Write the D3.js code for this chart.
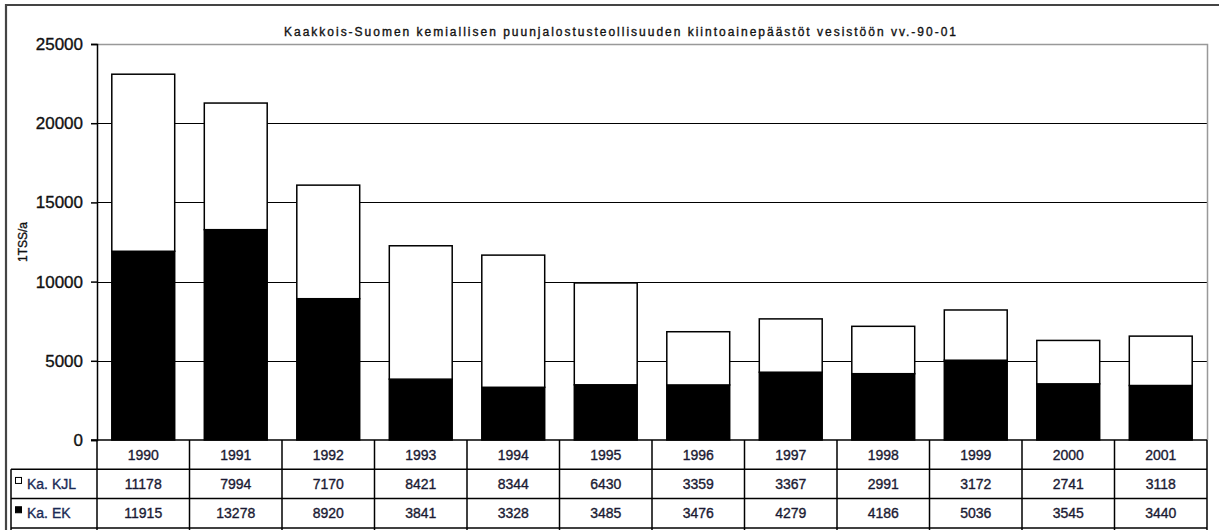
<!DOCTYPE html>
<html>
<head>
<meta charset="utf-8">
<script src="https://cdnjs.cloudflare.com/ajax/libs/d3/7.8.5/d3.min.js"></script>
<style>
  html, body { margin: 0; padding: 0; background: #fff; }
  svg { display: block; font-family: "Liberation Sans", Arial, sans-serif; }
  text { stroke: currentColor; stroke-width: 0.35; paint-order: stroke; }
</style>
</head>
<body>
<svg id="chart" width="1219" height="530"></svg>
<script>
// Kiintoainepäästöt vesistöön, t/a
const years = ["1990","1991","1992","1993","1994","1995","1996","1997","1998","1999","2000","2001"];
const kjl = [11178, 7994, 7170, 8421, 8344, 6430, 3359, 3367, 2991, 3172, 2741, 3118];
const ek  = [11915, 13278, 8920, 3841, 3328, 3485, 3476, 4279, 4186, 5036, 3545, 3440];
const seriesNames = ["Ka. KJL", "Ka. EK"];
const yTicks = [0, 5000, 10000, 15000, 20000, 25000];
const title = "Kaakkois-Suomen kemiallisen puunjalostusteollisuuden kiintoainepäästöt vesistöön vv.-90-01";
const yLabel = "1TSS/a";

(function () {
const svg = d3.select("#chart");

const plotLeft = 97, plotRight = 1207, plotTop = 44, zeroY = 440;
const rowH = 29.3;

const x = d3.scaleBand().domain(years).range([plotLeft, plotRight]).padding(0);
const y = d3.scaleLinear().domain([0, 25000]).range([zeroY, plotTop]);

// outer frame
svg.append("path")
  .attr("d", `M6,531 V5 H1220`)
  .attr("fill", "none").attr("stroke", "#444").attr("stroke-width", 2.2);

// title
svg.append("text")
  .attr("x", 620).attr("y", 36)
  .attr("text-anchor", "middle")
  .attr("font-size", 12)
  .attr("textLength", 672).attr("lengthAdjust", "spacing")
  .style("color", "#111").attr("fill", "#111")
  .text(title);

// horizontal gridlines
svg.append("g").selectAll("line")
  .data(yTicks.filter(t => t > 0 && t < 25000))
  .join("line")
  .attr("x1", plotLeft).attr("x2", plotRight)
  .attr("y1", d => Math.round(y(d)) + 0.5).attr("y2", d => Math.round(y(d)) + 0.5)
  .attr("stroke", "#000").attr("stroke-width", 1.2);

// plot area top and right edge
svg.append("path")
  .attr("d", `M${plotLeft},${plotTop + 0.5} H${plotRight + 0.5} V${zeroY}`)
  .attr("fill", "none").attr("stroke", "#999").attr("stroke-width", 1.5);

// stacked bars
const stackData = years.map((yr, i) => ({ year: yr, ek: ek[i], kjl: kjl[i] }));
const stack = d3.stack().keys(["ek", "kjl"])(stackData);
const barW = x.bandwidth() * 0.68;
const fills = { ek: "#000", kjl: "#fff" };

svg.append("g").selectAll("g")
  .data(stack)
  .join("g")
  .attr("fill", d => fills[d.key])
  .selectAll("rect")
  .data(d => d)
  .join("rect")
  .attr("x", d => x(d.data.year) + (x.bandwidth() - barW) / 2)
  .attr("width", barW)
  .attr("y", d => y(d[1]))
  .attr("height", d => y(d[0]) - y(d[1]))
  .attr("stroke", "#000").attr("stroke-width", 1.5);

// y axis
const yAxis = d3.axisLeft(y).tickValues(yTicks).tickSize(6).tickPadding(8).tickFormat(d3.format("d"));
const ga = svg.append("g").attr("transform", `translate(${plotLeft},0)`).call(yAxis);
ga.select(".domain").attr("stroke", "#000").attr("stroke-width", 1.5);
ga.selectAll(".tick line").attr("stroke", "#000").attr("stroke-width", 1.5);
ga.selectAll(".tick text").attr("font-size", 17).attr("fill", "#111").style("color", "#111")
  .attr("font-family", "Liberation Sans, Arial, sans-serif");

// y label
svg.append("text")
  .attr("transform", `translate(27,${(plotTop + zeroY) / 2}) rotate(-90)`)
  .attr("text-anchor", "middle")
  .attr("font-size", 12)
  .style("color", "#111").attr("fill", "#111")
  .text(yLabel);

// data table
const table = svg.append("g");
const rowsTop = [zeroY, zeroY + rowH, zeroY + 2 * rowH];
const tableLeft = 11;
const lineStyle = sel => sel.attr("stroke", "#000").attr("stroke-width", 1.5);

// horizontal rules
table.append("line").attr("x1", plotLeft - 6).attr("x2", plotRight).attr("y1", rowsTop[0]).attr("y2", rowsTop[0]).call(lineStyle);
table.append("line").attr("x1", tableLeft).attr("x2", plotRight).attr("y1", rowsTop[1]).attr("y2", rowsTop[1]).call(lineStyle);
table.append("line").attr("x1", tableLeft).attr("x2", plotRight).attr("y1", rowsTop[2]).attr("y2", rowsTop[2]).call(lineStyle);
table.append("line").attr("x1", tableLeft).attr("x2", plotRight).attr("y1", zeroY + 3 * rowH).attr("y2", zeroY + 3 * rowH).call(lineStyle);

// vertical rules
const bounds = years.map(yr => x(yr)).concat([plotRight]);
table.selectAll("line.v").data(bounds).join("line").attr("class", "v")
  .attr("x1", d => d).attr("x2", d => d)
  .attr("y1", zeroY).attr("y2", 531).call(lineStyle);
table.append("line").attr("x1", tableLeft).attr("x2", tableLeft)
  .attr("y1", rowsTop[1]).attr("y2", 531).call(lineStyle);

const cellText = (row, vals) => table.append("g").selectAll("text")
  .data(vals.map((v, i) => ({ v, yr: years[i] })))
  .join("text")
  .attr("x", d => x(d.yr) + x.bandwidth() / 2)
  .attr("y", rowsTop[row] + rowH / 2 + 5)
  .attr("text-anchor", "middle")
  .attr("font-size", 14)
  .style("color", "#1a1a33").attr("fill", "#1a1a33")
  .text(d => d.v);

cellText(0, years);
cellText(1, kjl);
cellText(2, ek);

// legend keys in the table
const legendFill = ["#fff", "#000"];
seriesNames.forEach((name, i) => {
  const cy = rowsTop[i + 1] + rowH / 2;
  table.append("rect")
    .attr("x", 15.5).attr("y", cy - 6.5).attr("width", 6).attr("height", 6)
    .attr("fill", legendFill[i]).attr("stroke", "#000").attr("stroke-width", 1);
  table.append("text")
    .attr("x", 27).attr("y", cy + 5)
    .attr("font-size", 14)
    .style("color", "#1a2a55").attr("fill", "#1a2a55")
    .text(name);
});
})();
</script>
</body>
</html>
